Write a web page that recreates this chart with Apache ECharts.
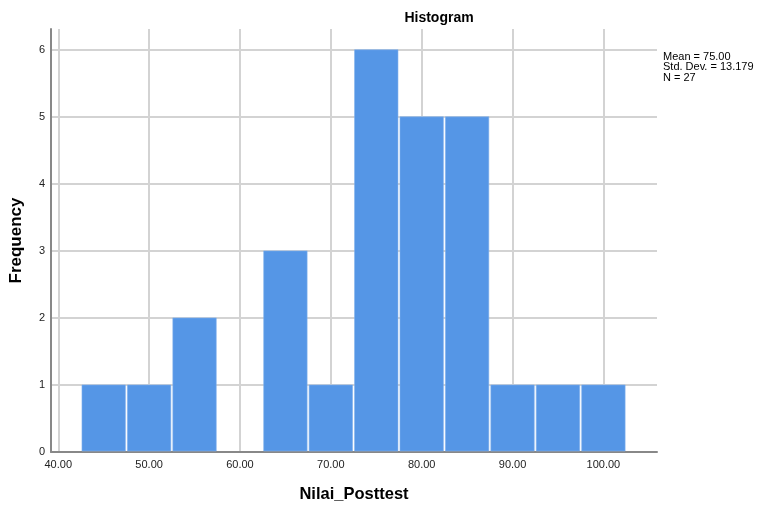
<!DOCTYPE html>
<html>
<head>
<meta charset="utf-8">
<script src="https://cdn.jsdelivr.net/npm/echarts@6/dist/echarts.min.js"></script>
<style>html,body{margin:0;padding:0;background:#fff}#c{width:762px;height:506px}</style>
</head>
<body>
<div id="c"></div>
<script>
const binLo = [42.5, 47.5, 52.5, 57.5, 62.5, 67.5, 72.5, 77.5, 82.5, 87.5, 92.5, 97.5];
const binHi = [47.5, 52.5, 57.5, 62.5, 67.5, 72.5, 77.5, 82.5, 87.5, 92.5, 97.5, 102.5];
const counts = [1, 1, 2, 0, 3, 1, 6, 5, 5, 1, 1, 1];
const statsText = ['Mean = 75.00', 'Std. Dev. = 13.179', 'N = 27'];

const chart = echarts.init(document.getElementById('c'), null, {renderer: 'canvas'});
const data = binLo.map((lo, i) => [lo, binHi[i], counts[i]]);
const font = 'Arial, "Liberation Sans", sans-serif';

chart.setOption({
  animation: false,
  backgroundColor: '#fff',
  title: {
    text: 'Histogram',
    left: 434, top: 6, textAlign: 'center',
    textStyle: {fontFamily: font, fontSize: 14, fontWeight: 'bold', color: '#000'}
  },
  graphic: [{
    type: 'text', left: 663, top: 51,
    style: {text: statsText.join('\n'), font: '11px ' + font, fill: '#000', lineHeight: 10.5}
  }],
  grid: {left: 51, right: 105, top: 29, bottom: 54, containLabel: false, outerBoundsMode: 'none'},
  xAxis: {
    type: 'value', min: 39.2, max: 105.9, splitNumber: 7,
    name: 'Nilai_Posttest', nameLocation: 'middle', nameGap: 34,
    nameTextStyle: {fontFamily: font, fontSize: 16.5, fontWeight: 'bold', color: '#000'},
    axisLine: {show: true, onZero: false, lineStyle: {color: '#888', width: 2}},
    axisTick: {show: false},
    axisLabel: {showMinLabel: false, showMaxLabel: false, margin: 7,
      fontFamily: font, fontSize: 11, color: '#222',
      formatter: v => (Math.abs(v - Math.round(v / 10) * 10) < 1e-6 ? v.toFixed(2) : '')},
    splitLine: {show: true, showMinLine: false, showMaxLine: false, lineStyle: {color: '#d3d3d3', width: 2}}
  },
  yAxis: {
    type: 'value', min: 0, max: 6.31, interval: 1,
    name: 'Frequency', nameLocation: 'middle', nameGap: 26, nameRotate: 90,
    nameTextStyle: {fontFamily: font, fontSize: 17, fontWeight: 'bold', color: '#000'},
    axisLine: {show: true, lineStyle: {color: '#888', width: 2}},
    axisTick: {show: false},
    axisLabel: {showMaxLabel: false, margin: 6, fontFamily: font, fontSize: 11, color: '#222',
      formatter: v => (Math.abs(v - Math.round(v)) < 1e-6 ? String(Math.round(v)) : '')},
    splitLine: {show: true, showMaxLine: false, lineStyle: {color: '#d3d3d3', width: 2}}
  },
  series: [{
    type: 'custom',
    data: data,
    encode: {x: [0, 1], y: 2},
    renderItem: function (params, api) {
      const c = api.value(2);
      if (!c) return null;
      const p0 = api.coord([api.value(0), c]);
      const p1 = api.coord([api.value(1), 0]);
      return {
        type: 'rect',
        shape: {x: p0[0] + 1, y: p0[1], width: p1[0] - p0[0] - 2, height: p1[1] - p0[1] - 1},
        style: {fill: '#5596e6', stroke: '#7fb0ec', lineWidth: 0.6}
      };
    }
  }]
});
</script>
</body>
</html>
